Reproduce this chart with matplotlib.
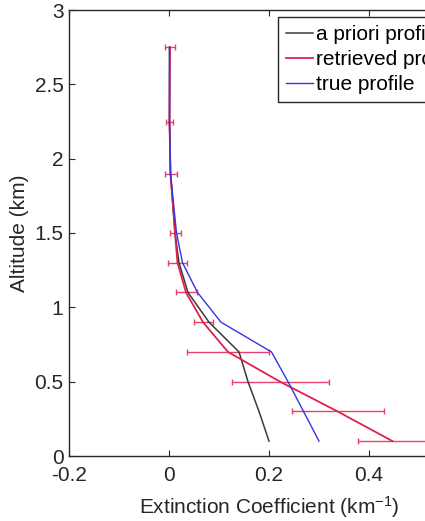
import matplotlib
matplotlib.use("Agg")
import matplotlib.pyplot as plt
import numpy as np

plt.rcParams['font.family'] = ['Liberation Sans', 'DejaVu Sans']
plt.rcParams['mathtext.fontset'] = 'custom'
plt.rcParams['mathtext.rm'] = 'Liberation Sans'
plt.rcParams['mathtext.it'] = 'Liberation Sans'

# Data
altitude = [0.1, 0.3, 0.5, 0.7, 0.9, 1.1, 1.3, 1.5, 1.9, 2.25, 2.75]
apriori = [0.200, 0.180, 0.158, 0.140, 0.080, 0.038, 0.020, 0.012, 0.003, 0.001, 0.001]
retrieved = [0.447, 0.337, 0.222, 0.118, 0.068, 0.034, 0.017, 0.012, 0.003, 0.001, 0.002]
retrieved_err = [0.070, 0.092, 0.097, 0.082, 0.019, 0.021, 0.019, 0.011, 0.012, 0.007, 0.010]
true_prof = [0.300, 0.269, 0.238, 0.205, 0.104, 0.057, 0.027, 0.015, 0.003, 0.001, 0.001]

labels = ['a priori profile', 'retrieved profile', 'true profile']
xticks = [-0.2, 0, 0.2, 0.4, 0.6]
xticklabels = ['-0.2', '0', '0.2', '0.4', '0.6']
yticks = [0, 0.5, 1, 1.5, 2, 2.5, 3]
yticklabels = ['0', '0.5', '1', '1.5', '2', '2.5', '3']

W, H = 425, 521
fig = plt.figure(figsize=(W/100, H/100), dpi=100)
left, right, top, bottom = 69, 469, 10, 456
ax = fig.add_axes([left/W, 1 - bottom/H, (right-left)/W, (bottom-top)/H])

ax.errorbar(retrieved, altitude, xerr=retrieved_err, fmt='none',
            ecolor='#e8406a', elinewidth=1.0, capsize=2.5, capthick=1.0, zorder=2)
l1, = ax.plot(apriori, altitude, color='#3a3a3a', lw=1.1, zorder=3)
l2, = ax.plot(retrieved, altitude, color='#e0204e', lw=1.3, zorder=3)
l3, = ax.plot(true_prof, altitude, color='#3434e0', lw=1.0, zorder=4)

ax.set_xlim(-0.2, 0.6)
ax.set_ylim(0, 3)
ax.set_xticks(xticks)
ax.set_xticklabels(xticklabels)
ax.set_yticks(yticks)
ax.set_yticklabels(yticklabels)
ax.tick_params(direction='in', length=4, width=0.8, top=True, right=True,
               labelsize=15, colors='#262626')
ax.tick_params(axis='x', pad=7)
ax.tick_params(axis='y', pad=4)
for s in ax.spines.values():
    s.set_color('#262626')
    s.set_linewidth(1.0)

ax.set_xlabel('Extinction Coefficient (km$^{-1}$)', fontsize=15, color='#262626', labelpad=7)
ax.set_ylabel('Altitude (km)', fontsize=15, color='#262626', labelpad=4)

leg = fig.legend([l1, l2, l3], labels, loc='upper left',
                 bbox_to_anchor=(278/W, 1 - 17/H), bbox_transform=fig.transFigure,
                 borderaxespad=0, fancybox=False, framealpha=1, edgecolor='#262626',
                 fontsize=15, handlelength=1.3, handletextpad=0.15, borderpad=0.38,
                 labelspacing=0.3)
leg.get_frame().set_linewidth(1.0)

fig.savefig('out.png', dpi=100)
